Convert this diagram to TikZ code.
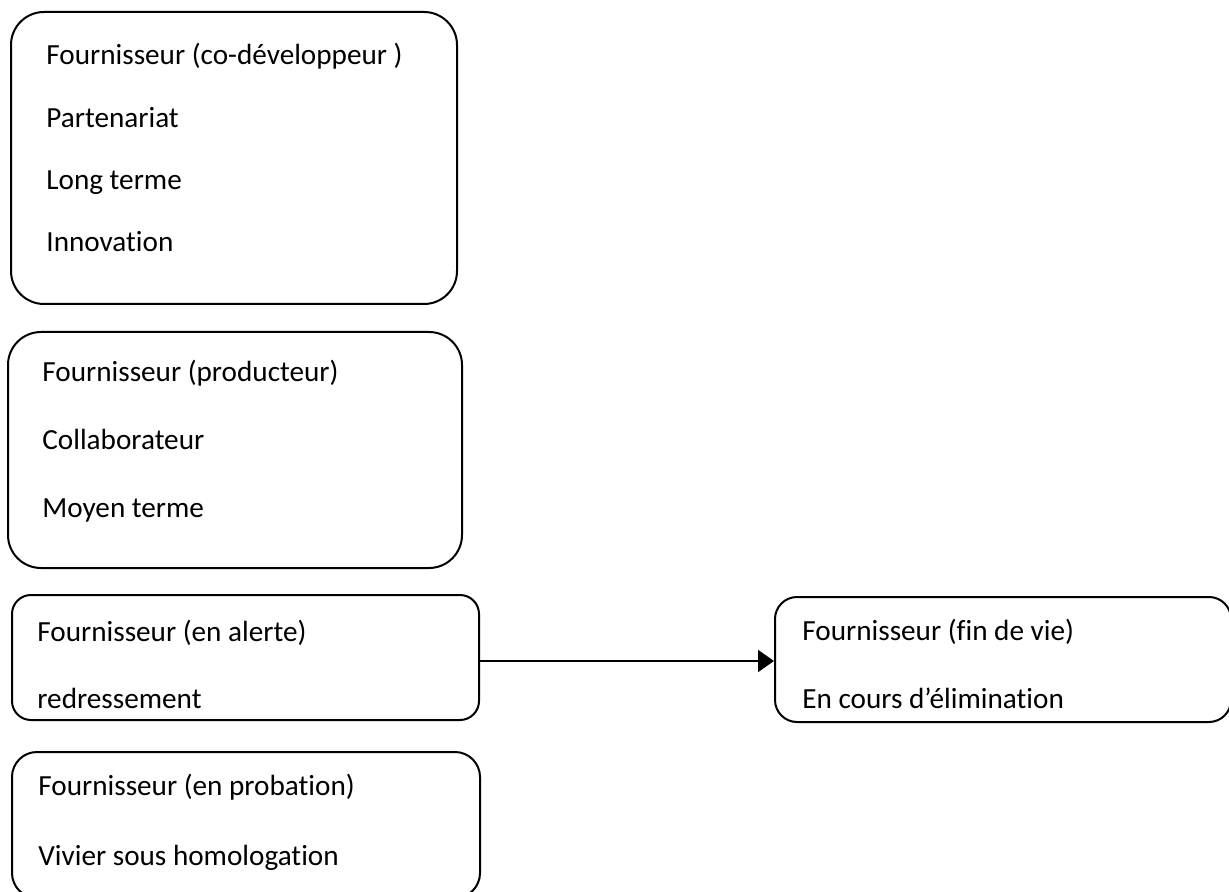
\documentclass[tikz,border=0pt]{standalone}
\usepackage{fontspec}
\setmainfont[Ligatures=NoCommon]{Carlito}
\usepackage{tikz}
\usetikzlibrary{positioning,arrows.meta,fit}

\begin{document}
\begin{tikzpicture}[
    x=0.5pt, y=-0.5pt, >=Triangle,
    font=\fontsize{14.6pt}{17pt}\selectfont,
    box/.style={draw, line width=1pt, inner sep=0pt, rectangle},
    lbl/.style={anchor=base west, inner sep=0pt},
    flow/.style={-{Triangle[length=8pt, width=11pt]}, line width=1pt}
]
\useasboundingbox (0,0) rectangle (1229,892);
% boxes
\node[box, rounded corners=16.5pt, fit={(11,12) (457,304)}]   (codev)  {};
\node[box, rounded corners=16.5pt, fit={(8,332) (462,568)}]   (prod)   {};
\node[box, rounded corners=9.5pt,  fit={(12,595) (479,720)}]  (alerte) {};
\node[box, rounded corners=12.5pt, fit={(12,752) (480,898)}]  (probat) {};
\node[box, rounded corners=11pt,   fit={(775,597) (1231,722)}] (findevie) {};
% texts
\foreach \txt [count=\i] in {Fournisseur (co-développeur ), Partenariat,
                             Long terme, Innovation}
  \node[lbl] at ({46},{65+62.3*(\i-1)}) {\txt};
\foreach \txt [count=\i] in {Fournisseur (producteur), Collaborateur,
                             Moyen terme}
  \node[lbl] at ({42},{382+67.5*(\i-1)}) {\txt};
\node[lbl] at (37,641) {Fournisseur (en alerte)};
\node[lbl] at (37,708) {redressement};
\node[lbl] at (38,795) {Fournisseur (en probation)};
\node[lbl] at (38,865) {Vivier sous homologation};
\node[lbl] at (802,640) {Fournisseur (fin de vie)};
\node[lbl] at (802,708) {En cours d’élimination};
% arrow
\draw[flow] (alerte.east |- 0,661) -- (findevie.west |- 0,661);
\end{tikzpicture}
\end{document}
